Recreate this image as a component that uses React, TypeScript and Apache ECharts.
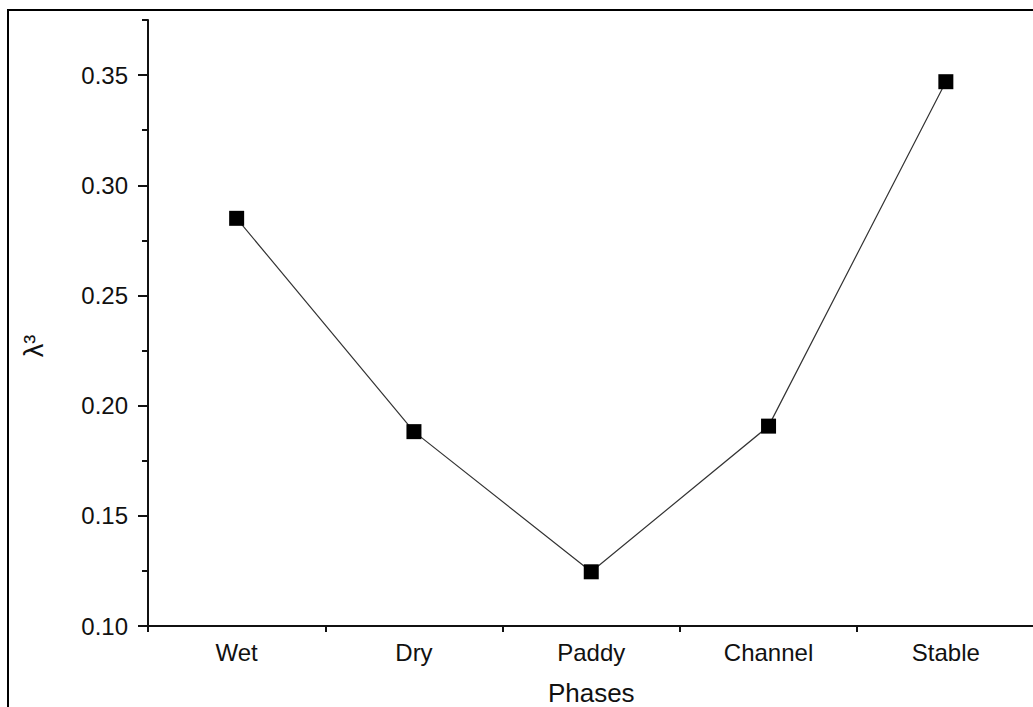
import React, { useEffect, useRef } from "react";
import * as echarts from "echarts";

const categories = ["Wet", "Dry", "Paddy", "Channel", "Stable"];
const values = [0.285, 0.1882, 0.1246, 0.1907, 0.347];
const yMajorTicks = [0.1, 0.15, 0.2, 0.25, 0.3, 0.35];
const yMinorTicks = [0.125, 0.175, 0.225, 0.275, 0.325, 0.375];

const FONT = 'Arial, "Liberation Sans", Helvetica, sans-serif';

export default function App() {
  const ref = useRef<HTMLDivElement>(null);
  useEffect(() => {
    if (!ref.current) return;
    const chart = echarts.init(ref.current, undefined, { renderer: "svg" });
    chart.setOption({
      animation: false,
      backgroundColor: "#ffffff",
      grid: { left: 148, top: 20, bottom: 81, right: 5.5, containLabel: false, outerBoundsMode: "none" },
      xAxis: [
        {
          type: "category",
          data: categories,
          boundaryGap: true,
          name: "Phases",
          nameLocation: "middle",
          nameGap: 54,
          nameTextStyle: { fontFamily: FONT, fontSize: 26, color: "#111" },
          axisLine: { lineStyle: { color: "#111", width: 2 } },
          axisTick: { alignWithLabel: true, length: 10, lineStyle: { color: "#111", width: 2 } },
          axisLabel: { fontFamily: FONT, fontSize: 24, color: "#111", margin: 14 },
          splitLine: { show: false },
        },
        {
          type: "category",
          data: categories,
          boundaryGap: true,
          position: "bottom",
          axisLine: { show: false },
          axisTick: { show: true, length: 6, lineStyle: { color: "#111", width: 2 } },
          axisLabel: { show: false },
          splitLine: { show: false },
        },
      ],
      yAxis: [
        {
          type: "value",
          min: 0.1,
          max: 0.375,
          interval: 0.05,
          axisLine: { show: true, lineStyle: { color: "#111", width: 2 } },
          axisTick: { show: true, length: 10, customValues: yMajorTicks, lineStyle: { color: "#111", width: 2 } },
          axisLabel: {
            customValues: yMajorTicks,
            fontFamily: FONT,
            fontSize: 24,
            color: "#111",
            margin: 20,
            formatter: (v: number) => v.toFixed(2),
          },
          splitLine: { show: false },
        },
        {
          type: "value",
          min: 0.1,
          max: 0.375,
          position: "left",
          axisLine: { show: false },
          axisTick: { show: true, length: 6, customValues: yMinorTicks, lineStyle: { color: "#111", width: 2 } },
          axisLabel: { show: false },
          splitLine: { show: false },
        },
      ],
      graphic: [
        {
          type: "rect",
          shape: { x: 8, y: 10, width: 1200, height: 900 },
          style: { fill: "none", stroke: "#000", lineWidth: 2 },
          silent: true,
        },
        {
          type: "text",
          x: 34,
          y: 346,
          rotation: Math.PI / 2,
          style: {
            text: "λ³",
            fontFamily: FONT,
            fontSize: 27,
            fill: "#111",
            align: "center",
            verticalAlign: "middle",
          },
        },
      ],
      series: [
        {
          type: "line",
          data: values,
          xAxisIndex: 0,
          yAxisIndex: 0,
          symbol: "rect",
          symbolSize: 15,
          itemStyle: { color: "#000" },
          lineStyle: { color: "#333", width: 1.2 },
        },
      ],
    });
    return () => chart.dispose();
  }, []);
  return (
    <div style={{ position: "fixed", left: 0, top: 0, width: 1033, height: 707, overflow: "hidden", background: "#fff" }}>
      <div ref={ref} style={{ width: 1040, height: 707 }} />
    </div>
  );
}
